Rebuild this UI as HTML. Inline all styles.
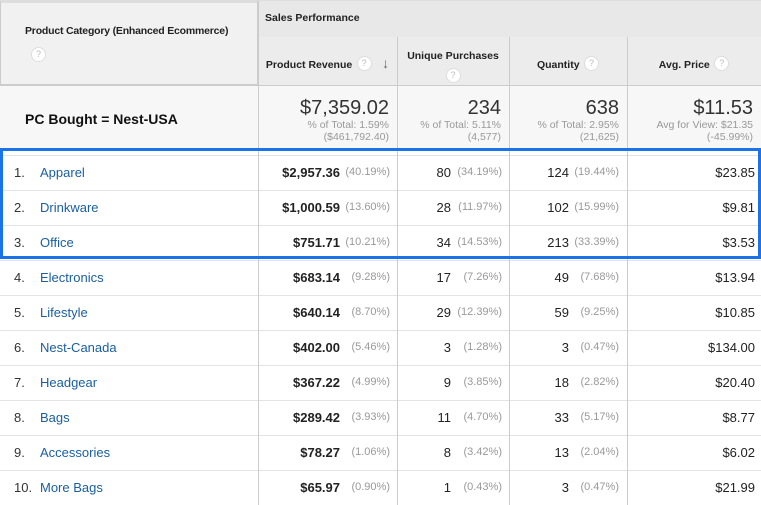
<!DOCTYPE html>
<html><head><meta charset="utf-8"><style>
body{margin:0;width:761px;height:505px;overflow:hidden;background:#fff;font-family:"Liberation Sans",Arial,sans-serif;position:relative}
.a{position:absolute;box-sizing:border-box}
.q{display:inline-block;width:13px;height:13px;border-radius:50%;border:1px solid #ddd;background:#fff;color:#bbb;font-size:9px;text-align:center;line-height:12px;vertical-align:middle}
.h{font-size:10.5px;font-weight:bold;color:#222}
.r{font-size:13px;color:#222}
</style></head><body>
<div class="a" style="left:0;top:0;width:258px;height:85px;background:#f1f1f1;border:1px solid #ccc;border-top:3px solid #ddd"></div>
<div class="a h" style="left:25px;top:25px;letter-spacing:-0.2px">Product Category (Enhanced Ecommerce)</div>
<div class="a" style="left:31px;top:46px"><span class="q">?</span></div>
<div class="a" style="left:258px;top:0;width:503px;height:38px;background:#e8e8e8;border-bottom:1px solid #d0d0d0;border-left:1px solid #ccc;border-top:1px solid #ddd"></div>
<div class="a h" style="left:265px;top:12px">Sales Performance</div>
<div id="hdr"></div>
<div class="a" style="left:0;top:85px;width:761px;height:65px;background:#f7f7f7;border-top:1px solid #ccc"></div>
<div class="a" style="left:25px;top:111px;font-size:14px;font-weight:bold;color:#111">PC Bought = Nest-USA</div>
<div id="sum"></div>
<div id="rows"></div>
<div class="a" style="left:0;top:148px;width:761px;height:111px;border:3px solid #1a73e8"></div>
<script>
const categories=["Apparel","Drinkware","Office","Electronics","Lifestyle","Nest-Canada","Headgear","Bags","Accessories","More Bags"];
const revenue=["$2,957.36","$1,000.59","$751.71","$683.14","$640.14","$402.00","$367.22","$289.42","$78.27","$65.97"];
const revenuePct=["40.19%","13.60%","10.21%","9.28%","8.70%","5.46%","4.99%","3.93%","1.06%","0.90%"];
const unique=["80","28","34","17","29","3","9","11","8","1"];
const uniquePct=["34.19%","11.97%","14.53%","7.26%","12.39%","1.28%","3.85%","4.70%","3.42%","0.43%"];
const qty=["124","102","213","49","59","3","18","33","13","3"];
const qtyPct=["19.44%","15.99%","33.39%","7.68%","9.25%","0.47%","2.82%","5.17%","2.04%","0.47%"];
const avgPrice=["$23.85","$9.81","$3.53","$13.94","$10.85","$134.00","$20.40","$8.77","$6.02","$21.99"];
const cols=[[258,397],[397,509],[509,627],[627,761]];
function add(p,html,css,name,inter){const d=document.createElement('div');d.className='a';d.style.cssText=css;d.innerHTML=html;


document.getElementById(p).appendChild(d);return d;}
const heads=[["Product Revenue",0],["Unique Purchases",1],["Quantity",0],["Avg. Price",0]];
heads.forEach((h,i)=>{const [l,r]=cols[i];
add('hdr','',`left:${l}px;top:37px;width:${r-l}px;height:48px;background:#ececec;border-left:1px solid #ccc`,'column-header',true);
if(h[1]) add('hdr',`<span class="h">${h[0]}</span><br><span class="q" style="margin-top:4px">?</span>`,`left:${l}px;top:46px;width:${r-l}px;text-align:center`,'column-header-label',false);
else add('hdr',`<span class="h">${h[0]}</span> <span class="q">?</span>`+(i==0?' <span style="color:#666;font-size:14px;margin-left:6px">&#8595;</span>':''),`left:${l}px;top:55px;width:${r-l}px;text-align:center`,'column-header-label',false);});
const sumMain=["$7,359.02","234","638","$11.53"],sumSub=["% of Total: 1.59%<br>($461,792.40)","% of Total: 5.11%<br>(4,577)","% of Total: 2.95%<br>(21,625)","Avg for View: $21.35<br>(-45.99%)"];
sumMain.forEach((m,i)=>{const [l,r]=cols[i];
add('sum','',`left:${l}px;top:85px;width:1px;height:65px;background:#ccc`,'column-divider',false);
add('sum',`<div style="font-size:20px;color:#333;line-height:22px">${m}</div><div style="font-size:10.5px;color:#999;line-height:12px">${sumSub[i]}</div>`,`left:${l}px;top:97px;width:${r-l-8}px;text-align:right`,'summary-value',false);});
categories.forEach((c,k)=>{const y=155+k*35;
add('rows','',`left:0;top:${y}px;width:761px;height:35px;border-top:1px solid #e3e3e3`,'table-row',false);
cols.forEach(([l])=>add('rows','',`left:${l}px;top:${y-5}px;width:1px;height:40px;background:#ccc`,'column-divider',false));
add('rows',`${k+1}.`,`left:14px;top:${y+10}px;font-size:13px;color:#333`,'row-index',false);
add('rows',c,`left:40px;top:${y+10}px;font-size:13px;color:#1a5fa0`,'category-link',true);
add('rows',`<b>${revenue[k]}</b>`,`left:258px;top:${y+10}px;width:82px;text-align:right;font-size:13px;color:#222`,'revenue-value',false);
add('rows',`(${revenuePct[k]})`,`left:340px;top:${y+11}px;width:50px;text-align:right;font-size:11px;color:#999`,'revenue-pct',false);
add('rows',unique[k],`left:397px;top:${y+10}px;width:54px;text-align:right`,'unique-value',false).className='a r';
add('rows',`(${uniquePct[k]})`,`left:450px;top:${y+11}px;width:52px;text-align:right;font-size:11px;color:#999`,'unique-pct',false);
add('rows',qty[k],`left:509px;top:${y+10}px;width:60px;text-align:right`,'quantity-value',false).className='a r';
add('rows',`(${qtyPct[k]})`,`left:568px;top:${y+11}px;width:51px;text-align:right;font-size:11px;color:#999`,'quantity-pct',false);
add('rows',avgPrice[k],`left:627px;top:${y+10}px;width:128px;text-align:right`,'avg-price-value',false).className='a r';
});
</script>
</body></html>
